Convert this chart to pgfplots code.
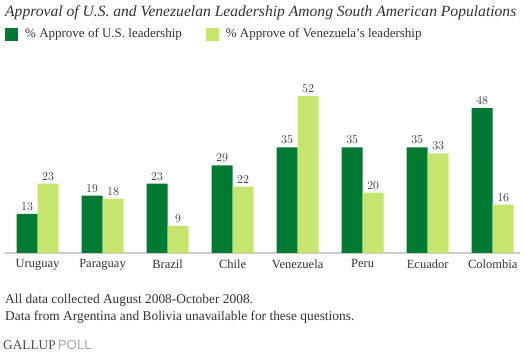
\documentclass[border=0pt]{standalone}
\usepackage{pgfplots}
\pgfplotsset{compat=1.18}
\usepackage{fontspec}
\setmainfont{Liberation Serif}
\newfontfamily\sansf{Liberation Sans}
\definecolor{dg}{HTML}{007A33}
\definecolor{lg}{HTML}{C5E56F}
\definecolor{txt}{HTML}{333333}
\begin{document}
\begin{tikzpicture}
\useasboundingbox (0pt,0pt) rectangle (524pt,363pt);
\node[anchor=base west, inner sep=0, font=\itshape\fontsize{15.6}{17}\selectfont, text=txt] at (5pt,346pt) {Approval of U.S. and Venezuelan Leadership Among South American Populations};
\begin{axis}[
  at={(5pt,110pt)}, anchor=south west,
  scale only axis, width=515pt, height=166pt,
  xmin=-0.5, xmax=7.42, ymin=0, ymax=55,
  axis x line*=bottom, axis y line=none,
  x axis line style={draw=black!20, line width=2pt, -},
  xtick={0,...,7},
  xticklabels={Uruguay,Paraguay,Brazil,Chile,Venezuela,Peru,Ecuador,Colombia},
  major tick length=0pt,
  xticklabel style={font=\fontsize{12.5}{14}\selectfont, text=txt, yshift=-3pt},
  ybar=0pt, bar width=21pt,
  nodes near coords,
  every node near coord/.append style={font=\fontsize{12}{14}\selectfont, text=txt},
  legend columns=2,
  legend style={at={(axis description cs:0,1.319)}, anchor=west, draw=none, fill=none, inner sep=0pt,
    font=\fontsize{13}{15}\selectfont, text=txt,
    /tikz/every even column/.append style={column sep=22pt}},
  legend image code/.code={\fill[#1] (0pt,-6.5pt) rectangle (13pt,6.5pt); \path (18pt,0pt);},
]
\addplot[fill=dg, draw=none] coordinates {(0,13) (1,19) (2,23) (3,29) (4,35) (5,35) (6,35) (7,48)};
\addplot[fill=lg, draw=none] coordinates {(0,23) (1,18) (2,9) (3,22) (4,52) (5,20) (6,33) (7,16)};
\legend{\% Approve of U.S. leadership, \% Approve of Venezuela's leadership}
\end{axis}
\node[anchor=base west, inner sep=0, font=\fontsize{13.4}{15}\selectfont, text=txt] at (5pt,59pt) {All data collected August 2008-October 2008.};
\node[anchor=base west, inner sep=0, font=\fontsize{13.4}{15}\selectfont, text=txt] at (5pt,42pt) {Data from Argentina and Bolivia unavailable for these questions.};
\node[anchor=base west, inner sep=0, font=\fontsize{13.3}{14}\selectfont] at (3pt,13pt) {\textcolor{black!70}{GALLUP}\,\textcolor{black!35}{\sansf POLL}};
\end{tikzpicture}
\end{document}
